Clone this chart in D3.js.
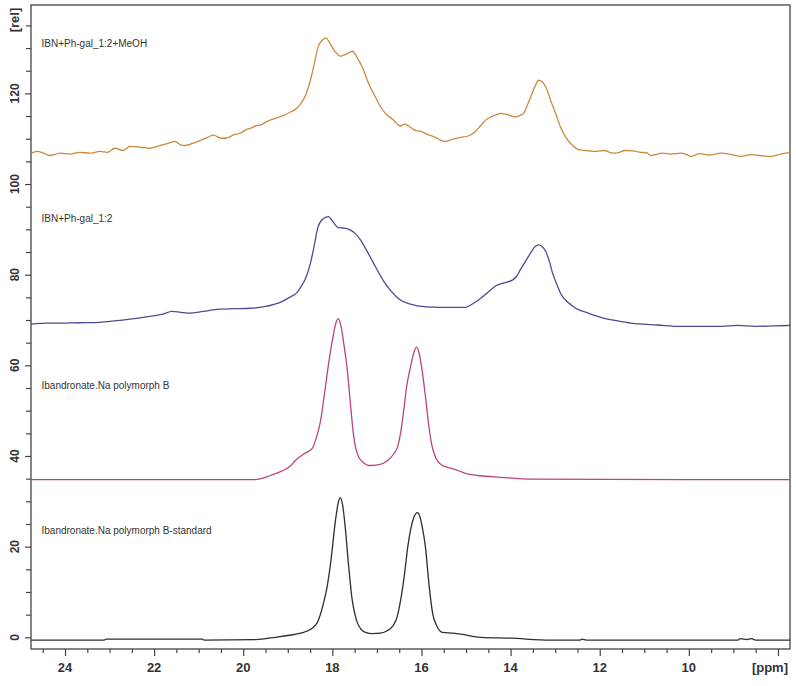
<!DOCTYPE html>
<html>
<head>
<meta charset="utf-8">
<script src="https://cdn.jsdelivr.net/npm/d3@7/dist/d3.min.js"></script>
<style>
    body { margin: 0; background: #fff; }
</style>
</head>
<body>
<div id="chart"></div>
<script>

// Spectra: [ppm, rel]
var specMeOH = [
    [24.76,106.8],[24.62,107.2],[24.50,106.9],[24.34,106.3],[24.20,106.6],[24.11,106.8],[23.90,106.6],
    [23.66,107.0],[23.45,106.8],[23.21,107.2],[23.05,107.0],[22.88,107.9],[22.70,107.4],[22.54,108.3],
    [22.30,108.1],[22.09,107.9],[21.90,108.4],[21.75,108.8],[21.53,109.4],[21.40,108.6],[21.30,108.5],
    [21.10,109.1],[20.97,109.6],[20.80,110.3],[20.67,110.8],[20.50,110.1],[20.40,110.1],[20.20,110.9],
    [20.07,111.2],[19.95,111.9],[19.84,112.3],[19.70,112.9],[19.62,113.0],[19.45,113.9],[19.28,114.5],
    [19.10,115.1],[18.94,115.9],[18.80,116.7],[18.72,117.6],[18.60,119.6],[18.49,123.0],[18.40,126.8],
    [18.32,130.2],[18.22,131.8],[18.14,132.2],[18.05,131.0],[17.96,129.5],[17.88,128.6],[17.82,128.2],
    [17.70,128.6],[17.55,129.3],[17.45,128.0],[17.33,125.8],[17.18,122.0],[17.03,119.1],[16.92,117.1],
    [16.81,115.6],[16.65,114.3],[16.47,112.8],[16.38,113.2],[16.29,112.8],[16.15,111.9],[16.02,111.6],
    [15.85,110.9],[15.69,110.3],[15.55,109.6],[15.46,109.4],[15.30,109.9],[15.12,110.3],[14.95,110.6],
    [14.79,111.6],[14.68,112.8],[14.56,114.1],[14.45,114.8],[14.34,115.2],[14.22,115.6],[14.11,115.4],
    [13.98,115.0],[13.89,114.8],[13.80,115.1],[13.71,115.6],[13.62,117.5],[13.55,119.2],[13.45,121.6],
    [13.37,122.9],[13.30,122.6],[13.21,121.4],[13.10,118.4],[12.99,115.6],[12.88,112.6],[12.76,110.3],
    [12.62,108.6],[12.47,107.6],[12.30,107.4],[12.09,107.2],[11.90,107.4],[11.75,106.9],[11.64,106.8],
    [11.42,107.4],[11.25,107.3],[11.08,107.0],[10.95,106.9],[10.85,106.3],[10.60,106.8],[10.40,106.6],
    [10.18,106.8],[10.05,106.5],[9.96,106.1],[9.75,106.7],[9.55,106.4],[9.28,106.8],[9.05,106.5],
    [8.83,106.1],[8.60,106.5],[8.40,106.3],[8.16,106.1],[7.95,106.6],[7.73,107.0]
];

var specMix = [
    [24.76,69.1],[24.40,69.3],[24.11,69.3],[23.70,69.4],[23.21,69.5],[22.90,69.8],[22.54,70.2],
    [22.09,70.8],[21.80,71.3],[21.60,71.9],[21.40,71.7],[21.20,71.5],[20.90,71.9],[20.54,72.4],
    [20.20,72.5],[19.84,72.6],[19.50,73.0],[19.17,73.9],[18.94,75.1],[18.80,76.0],[18.72,77.1],
    [18.60,79.2],[18.49,82.6],[18.40,86.8],[18.32,90.6],[18.20,92.4],[18.09,92.8],[17.98,91.6],
    [17.87,90.4],[17.75,90.3],[17.60,89.9],[17.48,89.0],[17.37,87.7],[17.20,84.8],[17.03,81.7],
    [16.85,78.6],[16.70,76.6],[16.50,74.6],[16.25,73.5],[15.90,72.9],[15.57,72.8],[15.30,72.8],
    [15.01,72.8],[14.85,73.6],[14.67,74.8],[14.50,76.2],[14.34,77.5],[14.15,78.2],[13.96,78.8],
    [13.87,79.6],[13.78,81.1],[13.65,83.2],[13.55,84.8],[13.45,86.2],[13.37,86.6],[13.30,86.3],
    [13.21,85.1],[13.12,82.6],[13.06,80.4],[12.96,77.8],[12.88,75.9],[12.70,73.8],[12.54,72.6],
    [12.25,71.5],[11.98,70.6],[11.60,69.8],[11.30,69.3],[10.70,68.9],[10.18,68.6],[9.70,68.6],
    [9.28,68.6],[8.90,68.8],[8.50,68.6],[8.10,68.7],[7.73,68.8]
];

var specPolyB = [
    [24.76,34.8],[22.00,34.8],[19.73,34.8],[19.55,35.1],[19.39,35.7],[19.15,36.6],[18.94,37.8],
    [18.83,39.0],[18.65,40.4],[18.45,41.7],[18.36,44.0],[18.27,47.5],[18.18,53.5],[18.09,60.0],
    [18.00,65.5],[17.93,69.0],[17.87,70.3],[17.81,68.8],[17.74,64.5],[17.66,58.5],[17.59,51.0],
    [17.53,45.0],[17.47,41.5],[17.40,39.6],[17.30,38.5],[17.19,37.9],[16.95,38.1],[16.76,39.0],
    [16.62,40.5],[16.54,41.9],[16.47,45.0],[16.40,50.0],[16.33,55.5],[16.25,59.5],[16.18,62.5],
    [16.11,64.0],[16.05,62.5],[15.98,58.5],[15.91,53.0],[15.84,47.0],[15.77,42.5],[15.68,39.6],
    [15.55,38.0],[15.35,37.3],[15.19,36.8],[14.95,36.0],[14.74,35.7],[14.22,35.3],[13.50,34.9],
    [10.00,34.8],[7.73,34.8]
];

var specStandard = [
    [24.76,-0.6],[23.12,-0.6],[23.08,-0.4],[20.92,-0.4],[20.88,-0.6],[19.73,-0.5],[19.50,-0.3],
    [19.28,0.0],[19.00,0.4],[18.72,0.9],[18.45,2.0],[18.32,3.6],[18.22,6.7],[18.12,11.0],[18.04,16.3],
    [17.93,25.8],[17.87,29.6],[17.82,30.8],[17.77,29.2],[17.71,24.2],[17.64,16.3],[17.56,8.6],
    [17.46,3.8],[17.36,1.8],[17.26,1.1],[17.10,0.8],[16.92,0.9],[16.78,1.4],[16.65,2.4],[16.55,4.4],
    [16.47,8.1],[16.38,14.0],[16.31,19.8],[16.17,26.5],[16.09,27.5],[16.03,26.4],[15.98,24.2],
    [15.91,19.8],[15.83,11.5],[15.75,5.3],[15.65,2.4],[15.53,1.1],[15.30,0.9],[15.12,0.7],
    [14.67,0.0],[14.00,-0.2],[13.10,-0.6],[12.45,-0.6],[12.40,-0.4],[12.30,-0.6],[8.90,-0.6],
    [8.85,-0.3],[8.70,-0.5],[8.60,-0.3],[8.50,-0.6],[7.73,-0.6]
];

var seriesData = [specMeOH, specMix, specPolyB, specStandard];
var seriesNames = ["IBN+Ph-gal_1:2+MeOH", "IBN+Ph-gal_1:2", "Ibandronate.Na polymorph B", "Ibandronate.Na polymorph B-standard"];
var seriesColors = ["#c98a3e", "#4c4c94", "#b8457f", "#2e2e2e"];

var xMajorTicks = [24, 22, 20, 18, 16, 14, 12, 10, 8];
var xTickLabels = ["24", "22", "20", "18", "16", "14", "12", "10", "[ppm]"];
var yMajorTicks = [0, 20, 40, 60, 80, 100, 120];
var yTickLabels = ["0", "20", "40", "60", "80", "100", "120"];

SpectrumVis = function(_parentElement){
    this.parentElement = _parentElement;
    this.initVis();
}

SpectrumVis.prototype.initVis = function(){
    var vis = this;

    vis.margin = { top: 5, right: 6, bottom: 37, left: 31 };
    vis.width = 796 - vis.margin.left - vis.margin.right;
    vis.height = 686 - vis.margin.top - vis.margin.bottom;

    // baseline (px, inside plot) of each spectrum's caption
    vis.labelY = [42, 217, 384, 529];

    vis.svg = d3.select("#" + vis.parentElement).append("svg")
        .attr("width", 796)
        .attr("height", 686)
        .append("g")
        .attr("transform", "translate(" + vis.margin.left + "," + vis.margin.top + ")");

    // ppm runs right to left
    vis.x = d3.scaleLinear().domain([24.763, 7.73]).range([0, vis.width]);
    vis.y = d3.scaleLinear().domain([-2.58, 139.5]).range([vis.height, 0]);

    var xMinor = d3.range(8, 25, 0.5).filter(function(d){ return d % 2 != 0; });
    var yMinor = d3.range(5, 140, 5).filter(function(d){ return d % 20 != 0; });

    // Ticks
    vis.svg.append("g")
        .attr("class", "axis")
        .attr("transform", "translate(0," + vis.height + ")")
        .call(d3.axisBottom(vis.x).tickValues(xMajorTicks).tickSize(7).tickFormat(""));
    vis.svg.append("g")
        .attr("class", "axis")
        .attr("transform", "translate(0," + vis.height + ")")
        .call(d3.axisBottom(vis.x).tickValues(xMinor).tickSize(4).tickFormat(""));
    vis.svg.append("g")
        .attr("class", "axis")
        .call(d3.axisLeft(vis.y).tickValues(yMajorTicks).tickSize(6).tickFormat(""));
    vis.svg.append("g")
        .attr("class", "axis")
        .call(d3.axisLeft(vis.y).tickValues(yMinor).tickSize(5).tickFormat(""));
    vis.svg.selectAll(".axis .domain").remove();
    vis.svg.selectAll(".axis line").attr("stroke", "#444").attr("stroke-width", 1.2);

    // Frame
    vis.svg.append("rect")
        .attr("width", vis.width)
        .attr("height", vis.height)
        .attr("fill", "none")
        .attr("stroke", "#444")
        .attr("stroke-width", 1.3);

    // Tick labels
    vis.svg.selectAll(".xlab")
        .data(xMajorTicks)
        .enter().append("text")
        .attr("class", "xlab")
        .attr("x", function(d, i){ return i == xMajorTicks.length - 1 ? vis.x(d) - 8 : vis.x(d); })
        .attr("y", vis.height + 23)
        .attr("text-anchor", "middle")
        .style("font", "bold 13px 'Liberation Sans', Arial, sans-serif")
        .style("fill", "#333")
        .text(function(d, i){ return xTickLabels[i]; });

    vis.svg.selectAll(".ylab")
        .data(yMajorTicks)
        .enter().append("text")
        .attr("class", "ylab")
        .attr("transform", function(d){ return "translate(-12," + vis.y(d) + ") rotate(-90)"; })
        .attr("text-anchor", "middle")
        .style("font", "bold 12px 'Liberation Sans', Arial, sans-serif")
        .style("fill", "#333")
        .text(function(d, i){ return yTickLabels[i]; });

    vis.svg.append("text")
        .attr("transform", "translate(-12,15) rotate(-90)")
        .attr("text-anchor", "middle")
        .style("font", "bold 13px 'Liberation Sans', Arial, sans-serif")
        .style("fill", "#333")
        .text("[rel]");

    vis.wrangleData();
};

SpectrumVis.prototype.wrangleData = function(){
    var vis = this;
    vis.displayData = seriesData.map(function(s, i){
        return { name: seriesNames[i], color: seriesColors[i], values: s };
    });
    vis.updateVis();
};

SpectrumVis.prototype.updateVis = function(){
    var vis = this;

    var line = d3.line()
        .x(function(d){ return vis.x(d[0]); })
        .y(function(d){ return vis.y(d[1]); })
        .curve(d3.curveMonotoneX);

    vis.svg.selectAll(".spectrum")
        .data(vis.displayData)
        .enter().append("path")
        .attr("class", "spectrum")
        .attr("d", function(d){ return line(d.values); })
        .attr("fill", "none")
        .attr("stroke", function(d){ return d.color; })
        .attr("stroke-width", 1.3);

    vis.svg.selectAll(".slabel")
        .data(vis.displayData)
        .enter().append("text")
        .attr("class", "slabel")
        .attr("x", 10.5)
        .attr("y", function(d, i){ return vis.labelY[i]; })
        .style("font", "10px 'Liberation Sans', Arial, sans-serif")
        .style("fill", "#333")
        .text(function(d){ return d.name; });
};

new SpectrumVis("chart");

</script>
</body>
</html>
